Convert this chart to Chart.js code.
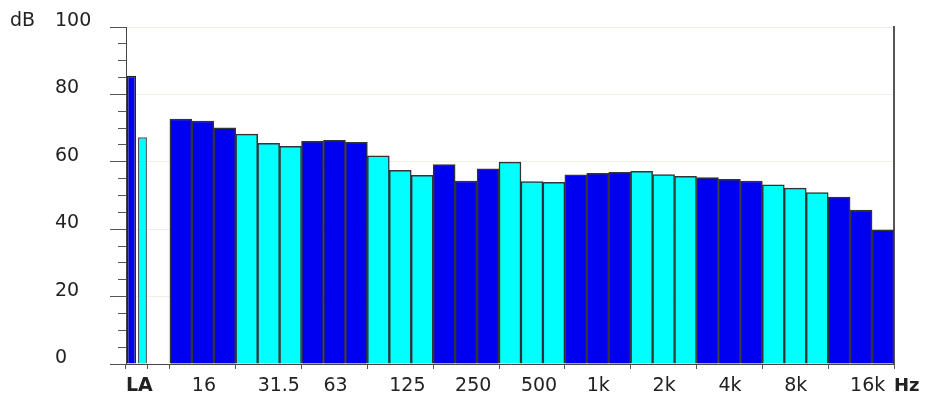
<!DOCTYPE html>
<html>
<head>
    <title>Third-octave spectrum</title>
    <script src="https://cdn.jsdelivr.net/npm/chart.js"></script>
    <style>
        body { margin: 0; background: #fff; }
    </style>
</head>
<body>
    <canvas id="spectrum" width="926" height="399"></canvas>

    <script>
        // slot 0 holds the two overall levels, slot 1 is left empty
        const categories = ['LA', '', '12.5', '16', '20', '25', '31.5', '40', '50', '63', '80',
            '100', '125', '160', '200', '250', '315', '400', '500', '630', '800', '1k', '1.25k',
            '1.6k', '2k', '2.5k', '3.15k', '4k', '5k', '6.3k', '8k', '10k', '12.5k', '16k', '20k'];
        const shownLabels = ['LA', '16', '31.5', '63', '125', '250', '500', '1k', '2k', '4k', '8k', '16k'];

        const overallA = 85.5;
        const overallB = 67.3;
        const bandLevels = [72.7, 72.1, 70.1, 68.2, 65.5, 64.6, 66.1, 66.4, 65.8,
            61.8, 57.5, 56.0, 59.2, 54.3, 57.9, 59.9, 54.1, 53.9,
            56.1, 56.6, 56.9, 57.2, 56.2, 55.7, 55.3, 54.8, 54.3,
            53.2, 52.2, 50.9, 49.5, 45.7, 39.8];

        const yTicks = [0, 20, 40, 60, 80, 100];

        const BLUE = '#0000f0';
        const CYAN = '#00ffff';
        const FONT = 'DejaVu Sans';

        const firstBand = categories.length - bandLevels.length;
        const bandData = categories.map((_, i) => i < firstBand ? null : bandLevels[i - firstBand]);
        const slotA = categories.map((_, i) => i === 0 ? overallA : null);
        const slotB = categories.map((_, i) => i === 0 ? overallB : null);

        // octave groups alternate blue / cyan
        const bandColor = (ctx) => Math.floor((ctx.dataIndex - firstBand) / 3) % 2 === 0 ? BLUE : CYAN;

        const isOctaveEdge = (i) => i === undefined || i <= firstBand || (i - firstBand) % 3 === 0;

        const unitLabels = {
            id: 'unitLabels',
            afterDraw(chart) {
                const c = chart.ctx;
                const y = chart.scales.y;
                const x = chart.scales.x;
                c.save();
                c.fillStyle = '#222';
                c.textBaseline = 'middle';
                c.textAlign = 'left';
                c.font = '19px "' + FONT + '"';
                c.fillText('dB', 10, y.getPixelForValue(100) - 6);
                c.font = 'bold 18px "' + FONT + '"';
                c.fillText('Hz', chart.chartArea.right, x.top + 22);
                c.restore();
            }
        };

        const ctx = document.getElementById('spectrum').getContext('2d');
        new Chart(ctx, {
            type: 'bar',
            data: {
                labels: categories,
                datasets: [{
                    label: 'bands',
                    data: bandData,
                    grouped: false,
                    backgroundColor: bandColor,
                    borderColor: '#333',
                    borderWidth: 1.5,
                    barPercentage: 1,
                    categoryPercentage: 1
                }, {
                    label: 'LA',
                    data: slotA,
                    skipNull: true,
                    backgroundColor: BLUE,
                    borderColor: '#222',
                    borderWidth: 1.5,
                    barPercentage: 0.82,
                    categoryPercentage: 1
                }, {
                    label: 'LA2',
                    data: slotB,
                    skipNull: true,
                    backgroundColor: CYAN,
                    borderColor: '#555',
                    borderWidth: 1.5,
                    barPercentage: 0.82,
                    categoryPercentage: 1
                }]
            },
            options: {
                responsive: false,
                animation: false,
                layout: {
                    padding: { left: 55, right: 32, top: 27, bottom: 0 }
                },
                plugins: {
                    legend: { display: false },
                    tooltip: { enabled: false }
                },
                scales: {
                    x: {
                        offset: true,
                        afterFit: (scale) => { scale.height = 35; },
                        border: { display: true, color: '#444', width: 1 },
                        grid: {
                            offset: true,
                            drawOnChartArea: false,
                            tickLength: 5,
                            color: (c) => isOctaveEdge(c.index) ? '#555' : 'rgba(0,0,0,0)'
                        },
                        ticks: {
                            autoSkip: false,
                            maxRotation: 0,
                            align: 'start',
                            labelOffset: -11,
                            padding: 6,
                            color: '#222',
                            font: (c) => ({ family: FONT, size: 19, weight: c.tick && c.tick.label === 'LA' ? 'bold' : 'normal' }),
                            callback: (value, index) => shownLabels.includes(categories[index]) ? categories[index] : ''
                        }
                    },
                    y: {
                        min: 0,
                        max: 100,
                        afterFit: (scale) => { scale.width = 71; },
                        border: { display: true, color: '#444', width: 1 },
                        grid: {
                            tickLength: 16,
                            color: (c) => yTicks.includes(c.tick.value) ? '#f0f0e4' : 'rgba(0,0,0,0)',
                            tickColor: (c) => '#555',
                            tickBorderDash: (c) => yTicks.includes(c.tick.value) ? [] : [0, 8, 8, 0]
                        },
                        ticks: {
                            stepSize: 5,
                            autoSkip: false,
                            crossAlign: 'far',
                            labelOffset: -6,
                            color: '#222',
                            font: { family: FONT, size: 19 },
                            callback: (value) => yTicks.includes(value) ? String(value) : ''
                        }
                    },
                    y2: {
                        position: 'right',
                        min: 0,
                        max: 100,
                        afterFit: (scale) => { scale.width = 0; },
                        border: { display: true, color: '#555', width: 2 },
                        grid: { drawOnChartArea: false, drawTicks: false },
                        ticks: { display: false }
                    }
                }
            },
            plugins: [unitLabels]
        });
    </script>
</body>
</html>
